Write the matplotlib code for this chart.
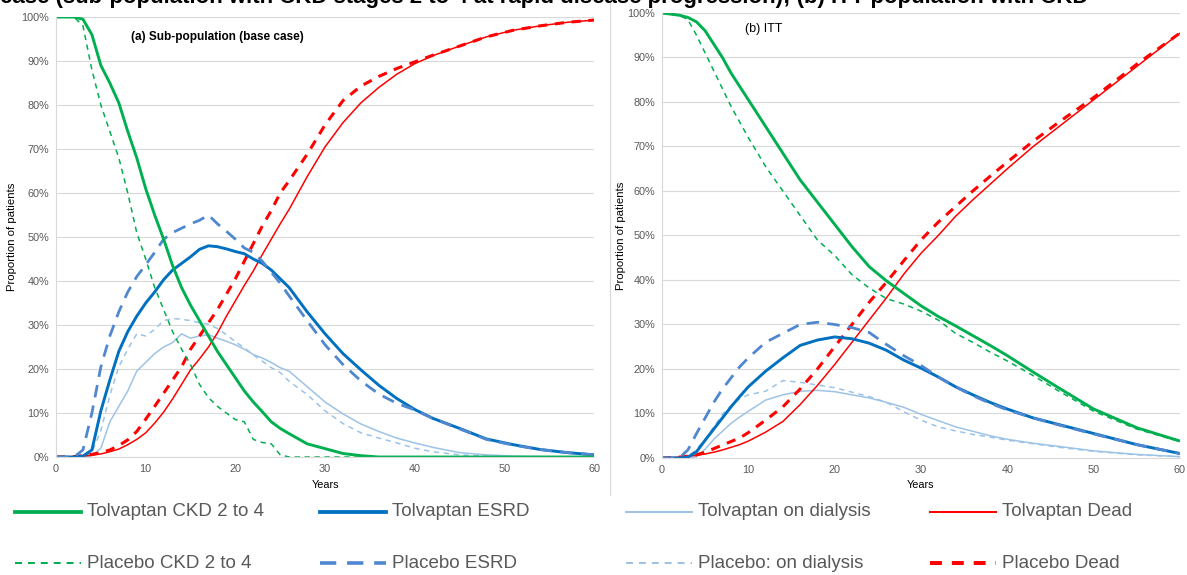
import matplotlib
matplotlib.use("Agg")
import matplotlib.pyplot as plt
from matplotlib.lines import Line2D
from matplotlib.ticker import PercentFormatter

plt.rcParams['font.family'] = ['Liberation Sans', 'DejaVu Sans']

# ---- data: (a) sub-population (base case) ----
years_a = [0, 2, 3, 4, 5, 6, 7, 8, 9, 10, 11, 12, 13, 14, 15, 16, 17, 18, 19, 20,
           21, 22, 23, 24, 25, 26, 28, 30, 32, 34, 36, 38, 40, 42, 45, 48, 51, 54, 57, 60]
tolv_ckd_a = [100, 100, 99.5, 96, 89, 85, 80.5, 74, 68, 61, 55, 49.5, 43.5, 38.5, 34.5, 31, 27.5, 24, 21, 18,
              15, 12.5, 10.3, 8, 6.5, 5.3, 3, 1.9, 0.8, 0.3, 0, 0, 0, 0, 0, 0, 0, 0, 0, 0]
plac_ckd_a = [100, 100, 98, 88, 80, 74, 68, 60, 51, 45, 38.5, 33.5, 28.5, 24.5, 21, 16.5, 13.5, 11.5, 10, 8.5,
              8, 4, 3.3, 3, 0.5, 0, 0, 0, 0, 0, 0, 0, 0, 0, 0, 0, 0, 0, 0, 0]
tolv_esrd_a = [0, 0, 0.2, 1.6, 10.5, 17.5, 24, 28.5, 32, 35, 37.5, 40.3, 42.5, 44, 45.5, 47.2, 48, 47.8, 47.3, 46.7,
               46.2, 45, 44, 42.5, 40.5, 38.5, 33, 28, 23.5, 19.8, 16.3, 13.3, 10.8, 8.8, 6.5, 4.1, 2.8, 1.7, 1, 0.5]
plac_esrd_a = [0, 0, 1.6, 10, 20.5, 27.5, 33, 37.5, 41, 43.7, 46.5, 49.5, 51, 52, 53, 53.8, 55, 53, 51.3, 49.5,
               47.5, 46.5, 44.5, 42, 39.5, 36.6, 31, 25.5, 21, 17.3, 14.3, 12.2, 10.7, 8.8, 6.4, 4, 2.7, 1.7, 1, 0.5]
tolv_dial_a = [0, 0, 0, 0.3, 2, 8, 11.5, 15, 19.5, 21.5, 23.5, 25, 26, 28, 27, 27.5, 27.8, 27, 26.3, 25.5,
               24.5, 23.3, 22.5, 21.5, 20.3, 19.5, 16, 12.5, 9.8, 7.5, 5.8, 4.3, 3.2, 2.2, 1, 0.5, 0.2, 0.1, 0, 0]
plac_dial_a = [0, 0, 0, 1, 6, 14, 20.5, 24.5, 28, 27.5, 29, 31, 31.5, 31.3, 31, 30.5, 30.2, 29.2, 27.8, 26.2,
               24.8, 23.2, 21.8, 20.3, 19.2, 17.2, 14.2, 10.5, 7.6, 5.5, 4.3, 3.2, 2, 1.2, 0.5, 0.2, 0, 0, 0, 0]
tolv_dead_a = [0, 0.1, 0.2, 0.4, 0.7, 1.2, 1.8, 2.8, 4, 5.5, 7.7, 10.2, 13.2, 16.5, 19.8, 22.3, 25, 28.2, 32, 35.5,
               39, 42.3, 46, 49.5, 53, 56.3, 63.7, 70.5, 76, 80.5, 84, 87, 89.4, 91.2, 93.4, 95.5, 97, 98, 98.8, 99.3]
plac_dead_a = [0, 0.1, 0.3, 0.6, 1, 1.6, 2.6, 3.9, 5.8, 8.6, 11.5, 14.5, 17.5, 20.5, 24.5, 27.5, 30.5, 33.5, 37, 40.5,
               44.5, 48.5, 52.5, 56, 60, 62.8, 68.8, 75.5, 81, 84.3, 86.5, 88.3, 89.8, 91.3, 93.4, 95.5, 97, 98, 98.8, 99.3]

# ---- data: (b) ITT ----
years_b = [0, 2, 3, 4, 5, 6, 7, 8, 9, 10, 12, 14, 16, 18, 20, 22, 24, 26, 28, 30,
           32, 34, 36, 38, 40, 43, 46, 50, 55, 60]
tolv_ckd_b = [100, 99.5, 99, 98, 96, 93, 90, 86.5, 83.5, 80.5, 74.5, 68.5, 62.5, 57.5, 52.5, 47.5, 43, 39.8, 37, 34.2,
              31.8, 29.7, 27.5, 25.3, 23, 19.3, 15.7, 11, 6.8, 3.8]
plac_ckd_b = [100, 99.5, 98.5, 95, 91, 87, 83, 79, 75.5, 72, 65.5, 60, 54.5, 49, 45.5, 41.2, 38.2, 35.8, 34.6, 33,
              31, 28, 26, 23.8, 21.8, 18.5, 15, 10.5, 6.5, 3.7]
tolv_esrd_b = [0, 0, 0.2, 1.4, 4, 6.5, 9, 11.5, 13.8, 16, 19.5, 22.5, 25.3, 26.5, 27.2, 26.8, 25.8, 24.2, 22, 20.2,
               18.2, 16, 14.2, 12.5, 11, 9, 7.5, 5.5, 3, 1]
plac_esrd_b = [0, 0, 1.8, 5.5, 9, 12.5, 15.5, 18, 20.5, 22.5, 26, 28, 30, 30.5, 30, 29.3, 28.2, 25.5, 23, 20.8,
               18.2, 16, 14, 12.3, 10.8, 9, 7.4, 5.4, 3, 1]
tolv_dial_b = [0, 0, 0, 0.3, 2, 4.2, 6, 7.8, 9.2, 10.5, 13, 14.2, 15, 15.2, 14.9, 14.2, 13.5, 12.5, 11.4, 9.8,
               8.4, 7, 6, 5, 4.2, 3.3, 2.6, 1.6, 0.8, 0.3]
plac_dial_b = [0, 0, 0.3, 2, 4.2, 7, 9.8, 11.8, 13.3, 14.2, 15, 17.4, 17, 16.4, 15.8, 14.8, 13.8, 12.5, 10.4, 8.5,
               7, 6.1, 5.3, 4.7, 4, 3.2, 2.4, 1.5, 0.7, 0.3]
tolv_dead_b = [0, 0.2, 0.4, 0.6, 0.9, 1.3, 1.8, 2.4, 3, 3.8, 5.8, 8.2, 12, 16.3, 21, 26, 31, 36, 41.3, 46,
               50, 54.3, 58, 61.5, 65, 70, 74.5, 80.5, 88, 95.5]
plac_dead_b = [0, 0.2, 0.4, 0.7, 1.3, 2.1, 2.9, 3.7, 4.5, 5.7, 8.5, 11.5, 15.5, 20, 25, 30, 35, 39.5, 44.3, 49,
               53, 56.5, 60, 63.3, 66.5, 71.2, 75.5, 81, 88.5, 95.5]

labels = ['Tolvaptan CKD 2 to 4', 'Placebo CKD 2 to 4', 'Tolvaptan ESRD', 'Placebo ESRD',
          'Tolvaptan on dialysis', 'Placebo: on dialysis', 'Tolvaptan Dead', 'Placebo Dead']

styles = [
    dict(color='#00b050', lw=2.1, ls='-'),
    dict(color='#00b050', lw=1.1, ls=(0, (3.5, 3))),
    dict(color='#0070c0', lw=2.1, ls='-'),
    dict(color='#4f87d0', lw=2.0, ls=(0, (4.5, 3))),
    dict(color='#9dc3e6', lw=1.1, ls='-'),
    dict(color='#9dc3e6', lw=1.1, ls=(0, (3.5, 3))),
    dict(color='#ff0000', lw=1.1, ls='-'),
    dict(color='#ff0000', lw=2.2, ls=(0, (3, 2.5))),
]

series_a = [tolv_ckd_a, plac_ckd_a, tolv_esrd_a, plac_esrd_a, tolv_dial_a, plac_dial_a, tolv_dead_a, plac_dead_a]
series_b = [tolv_ckd_b, plac_ckd_b, tolv_esrd_b, plac_esrd_b, tolv_dial_b, plac_dial_b, tolv_dead_b, plac_dead_b]

fig = plt.figure(figsize=(11.87, 5.75), dpi=100)
ax_a = fig.add_axes([0.0472, 0.2052, 0.4533, 0.7652])
ax_b = fig.add_axes([0.5577, 0.2035, 0.4364, 0.7739])

# draw order: dialysis first, dead, then ESRD and CKD on top
order = [4, 5, 6, 7, 2, 3, 0, 1]
for ax, xs, series, pad in [(ax_a, years_a, series_a, 3), (ax_b, years_b, series_b, 1)]:
    for i in order:
        st = styles[i]
        ax.plot(xs, series[i], color=st['color'], lw=st['lw'], ls=st['ls'], solid_capstyle='butt')
    ax.set_xlim(0, 60)
    ax.set_ylim(0, 100)
    ax.set_xticks(range(0, 61, 10))
    ax.set_yticks(range(0, 101, 10))
    ax.yaxis.set_major_formatter(PercentFormatter(decimals=0))
    ax.grid(axis='y', color='#d9d9d9', lw=0.8)
    ax.set_axisbelow(True)
    for s in ['top', 'right']:
        ax.spines[s].set_visible(False)
    ax.spines['left'].set_color('#d9d9d9')
    ax.spines['bottom'].set_color('#d9d9d9')
    ax.tick_params(length=0, labelsize=7.8, labelcolor='#595959', pad=5)
    ax.set_xlabel('Years', fontsize=7.8, labelpad=4)
    ax.set_ylabel('Proportion of patients', fontsize=8.2, labelpad=pad)

ax_a.text(0.14, 0.955, '(a) Sub-population (base case)', transform=ax_a.transAxes,
          fontsize=8.5, fontweight='bold', va='center')
ax_b.text(0.16, 0.965, '(b) ITT', transform=ax_b.transAxes, fontsize=9, va='center')

# caption at the top of the image, cut off by the edge as in the source
fig.text(0.0, 1.005, 'case (sub-population with CKD stages 2 to 4 at rapid disease progression); (b) ITT population with CKD',
         fontsize=16, fontweight='bold', va='center', ha='left')

# separator between the two charts
fig.add_artist(Line2D([610 / 1187, 610 / 1187], [1.0, 1 - 495 / 575], color='#d9d9d9', lw=0.8))

# legend drawn manually (4 columns x 2 rows)
col_x = [15, 320, 626, 930]
row_y = [512, 563]
for k in range(8):
    col, row = k // 2, k % 2
    st = styles[k]
    x0 = col_x[col] / 1187
    x1 = (col_x[col] + 66) / 1187
    y = 1 - row_y[row] / 575
    fig.add_artist(Line2D([x0, x1], [y, y], color=st['color'], lw=st['lw'] * 1.3, ls=st['ls']))
    fig.text(x1 + 6 / 1187, y, labels[k], fontsize=13.5, color='#595959', va='center', ha='left')

fig.savefig('out.png', dpi=100)
